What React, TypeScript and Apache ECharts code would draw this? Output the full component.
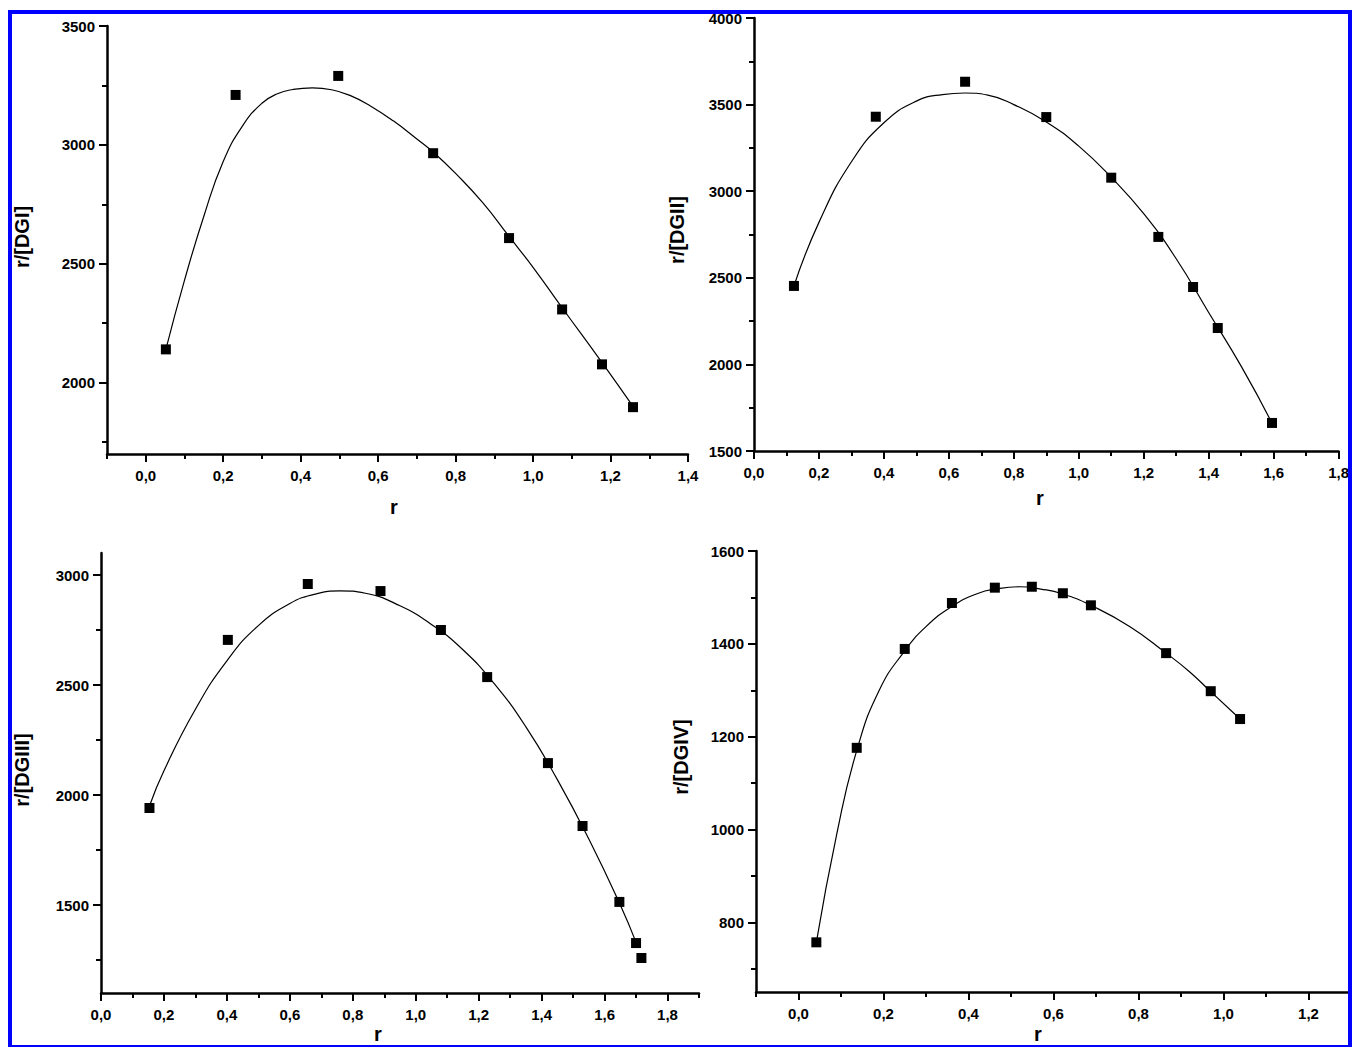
import React, { useEffect, useRef } from "react";
import * as echarts from "echarts";

// ---------- Data ----------
// Panel 1: r/[DGI]
const dg1R = [0.052, 0.232, 0.497, 0.742, 0.938, 1.075, 1.178, 1.258];
const dg1V = [2140, 3210, 3290, 2965, 2608, 2308, 2077, 1897];
const dg1FitR = [0.052, 0.1, 0.15, 0.2, 0.25, 0.3, 0.34, 0.38, 0.43, 0.48, 0.53, 0.58, 0.64, 0.7, 0.742, 0.8, 0.87, 0.938, 1.0, 1.075, 1.18, 1.258];
const dg1FitV = [2140, 2430, 2700, 2930, 3080, 3175, 3215, 3233, 3240, 3232, 3206, 3164, 3100, 3025, 2970, 2880, 2757, 2615, 2485, 2315, 2080, 1900];

// Panel 2: r/[DGII]
const dg2R = [0.123, 0.375, 0.65, 0.9, 1.1, 1.245, 1.352, 1.428, 1.595];
const dg2V = [2453, 3430, 3632, 3428, 3078, 2736, 2447, 2210, 1662];
const dg2FitR = [0.123, 0.2, 0.3, 0.4, 0.5, 0.58, 0.65, 0.72, 0.8, 0.9, 1.0, 1.1, 1.2, 1.3, 1.4, 1.5, 1.595];
const dg2FitV = [2453, 2820, 3170, 3395, 3520, 3558, 3567, 3555, 3500, 3400, 3260, 3080, 2870, 2610, 2300, 1990, 1662];

// Panel 3: r/[DGIII]
const dg3R = [0.154, 0.403, 0.657, 0.888, 1.08, 1.227, 1.42, 1.53, 1.647, 1.70, 1.717];
const dg3V = [1941, 2705, 2959, 2927, 2750, 2536, 2145, 1859, 1514, 1327, 1259];
const dg3FitR = [0.154, 0.2, 0.3, 0.4, 0.5, 0.6, 0.68, 0.76, 0.84, 0.95, 1.05, 1.15, 1.25, 1.35, 1.45, 1.55, 1.65, 1.70];
const dg3FitV = [1950, 2110, 2390, 2610, 2770, 2870, 2913, 2928, 2917, 2860, 2775, 2660, 2505, 2310, 2070, 1800, 1500, 1330];

// Panel 4: r/[DGIV]
const dg4R = [0.042, 0.137, 0.25, 0.361, 0.462, 0.549, 0.622, 0.688, 0.865, 0.97, 1.039];
const dg4V = [757, 1176, 1389, 1488, 1521, 1523, 1509, 1483, 1380, 1298, 1238];
const dg4FitR = [0.042, 0.09, 0.137, 0.19, 0.25, 0.3, 0.36, 0.42, 0.47, 0.52, 0.57, 0.62, 0.688, 0.78, 0.865, 0.92, 0.97, 1.039];
const dg4FitV = [757, 990, 1170, 1300, 1385, 1437, 1480, 1508, 1519, 1523, 1518, 1508, 1483, 1437, 1380, 1340, 1297, 1238];

// Tick values
const x1Major = [0, 0.2, 0.4, 0.6, 0.8, 1.0, 1.2, 1.4];
const x1Minor = [-0.1, 0.1, 0.3, 0.5, 0.7, 0.9, 1.1, 1.3];
const y1Major = [2000, 2500, 3000, 3500];
const y1Minor = [1750, 2250, 2750, 3250];

const x2Major = [0, 0.2, 0.4, 0.6, 0.8, 1.0, 1.2, 1.4, 1.6, 1.8];
const x2Minor = [0.1, 0.3, 0.5, 0.7, 0.9, 1.1, 1.3, 1.5, 1.7];
const y2Major = [1500, 2000, 2500, 3000, 3500, 4000];
const y2Minor = [1750, 2250, 2750, 3250, 3750];

const x3Major = [0, 0.2, 0.4, 0.6, 0.8, 1.0, 1.2, 1.4, 1.6, 1.8];
const x3Minor = [0.1, 0.3, 0.5, 0.7, 0.9, 1.1, 1.3, 1.5, 1.7, 1.9];
const y3Major = [1500, 2000, 2500, 3000];
const y3Minor = [1250, 1750, 2250, 2750];

const x4Major = [0, 0.2, 0.4, 0.6, 0.8, 1.0, 1.2];
const x4Minor = [-0.1, 0.1, 0.3, 0.5, 0.7, 0.9, 1.1, 1.3];
const y4Major = [800, 1000, 1200, 1400, 1600];
const y4Minor = [700, 900, 1100, 1300, 1500];

const yNames = ["r/[DGI]", "r/[DGII]", "r/[DGIII]", "r/[DGIV]"];
const xName = "r";

const FONT = "'Liberation Sans', Arial, sans-serif";

const zip = (a: number[], b: number[]) => a.map((v, i) => [v, b[i]]);

export default function App() {
  const ref = useRef<HTMLDivElement>(null);

  useEffect(() => {
    if (!ref.current) return;
    const chart = echarts.init(ref.current, null, { renderer: "svg" });

    const panels = [
      { grid: { left: 107, top: 26, width: 581, height: 428 }, x: [-0.1, 1.4], y: [1700, 3500], xMaj: x1Major, xMin: x1Minor, yMaj: y1Major, yMin: y1Minor, r: dg1R, v: dg1V, fr: dg1FitR, fv: dg1FitV },
      { grid: { left: 754, top: 18, width: 588, height: 433 }, x: [0, 1.8], y: [1500, 4000], xMaj: x2Major, xMin: x2Minor, yMaj: y2Major, yMin: y2Minor, r: dg2R, v: dg2V, fr: dg2FitR, fv: dg2FitV },
      { grid: { left: 101, top: 553, width: 598, height: 440 }, x: [0, 1.9], y: [1100, 3100], xMaj: x3Major, xMin: x3Minor, yMaj: y3Major, yMin: y3Minor, r: dg3R, v: dg3V, fr: dg3FitR, fv: dg3FitV },
      { grid: { left: 756, top: 551, width: 595, height: 441 }, x: [-0.1, 1.3], y: [650, 1600], xMaj: x4Major, xMin: x4Minor, yMaj: y4Major, yMin: y4Minor, r: dg4R, v: dg4V, fr: dg4FitR, fv: dg4FitV },
    ];

    const labelStyle = { fontFamily: FONT, fontWeight: "bold" as const, fontSize: 15, color: "#000" };
    const grids: any[] = [];
    const xAxes: any[] = [];
    const yAxes: any[] = [];
    const series: any[] = [];

    panels.forEach((p, i) => {
      grids.push({ ...p.grid, containLabel: false });
      xAxes.push({
        type: "value", gridIndex: i, min: p.x[0], max: p.x[1], position: "bottom",
        axisLine: { show: true, onZero: false, lineStyle: { color: "#000", width: 2.5 } },
        axisTick: { show: true, inside: false, length: 8, customValues: p.xMaj, lineStyle: { color: "#000", width: 2 } },
        axisLabel: { show: true, customValues: p.xMaj, margin: 14, ...labelStyle, formatter: (v: number) => v.toFixed(1).replace(".", ",") },
        splitLine: { show: false },
      });
      xAxes.push({
        type: "value", gridIndex: i, min: p.x[0], max: p.x[1], position: "bottom",
        axisLine: { show: false, onZero: false },
        axisTick: { show: true, inside: false, length: 5, customValues: p.xMin, lineStyle: { color: "#000", width: 2 } },
        axisLabel: { show: false },
        splitLine: { show: false },
      });
      yAxes.push({
        type: "value", gridIndex: i, min: p.y[0], max: p.y[1], position: "left",
        axisLine: { show: true, onZero: false, lineStyle: { color: "#000", width: 2.5 } },
        axisTick: { show: true, inside: false, length: 8, customValues: p.yMaj, lineStyle: { color: "#000", width: 2 } },
        axisLabel: { show: true, customValues: p.yMaj, margin: 12, ...labelStyle, formatter: (v: number) => String(v) },
        splitLine: { show: false },
      });
      yAxes.push({
        type: "value", gridIndex: i, min: p.y[0], max: p.y[1], position: "left",
        axisLine: { show: false, onZero: false },
        axisTick: { show: true, inside: false, length: 5, customValues: p.yMin, lineStyle: { color: "#000", width: 2 } },
        axisLabel: { show: false },
        splitLine: { show: false },
      });
      series.push({
        type: "line", name: yNames[i] + " fit", xAxisIndex: 2 * i, yAxisIndex: 2 * i,
        data: zip(p.fr, p.fv), smooth: 0.5, showSymbol: false, symbol: "none",
        lineStyle: { color: "#000", width: 1.2 }, z: 2,
      });
      series.push({
        type: "scatter", name: yNames[i], xAxisIndex: 2 * i, yAxisIndex: 2 * i,
        data: zip(p.r, p.v), symbol: "rect", symbolSize: 10,
        itemStyle: { color: "#000", opacity: 1 }, z: 3,
      });
    });

    const nameStyle = { fontFamily: FONT, fontWeight: "bold", fontSize: 20, fill: "#000" };
    const yNamePos = [[22, 237], [677, 230], [22, 770], [681, 757]];
    const xNamePos = [[394, 507], [1040, 498], [378, 1034], [1038, 1034]];

    const graphics: any[] = [];
    yNames.forEach((n, i) => {
      graphics.push({
        type: "text", x: yNamePos[i][0], y: yNamePos[i][1], rotation: Math.PI / 2, z: 10,
        style: { text: n, ...nameStyle, align: "center", verticalAlign: "middle" },
      });
      graphics.push({
        type: "text", x: xNamePos[i][0], y: xNamePos[i][1], z: 10,
        style: { text: xName, ...nameStyle, align: "center", verticalAlign: "middle" },
      });
    });
    // blue frame
    const blue = "#0000ff";
    graphics.push({ type: "rect", z: 100, shape: { x: 8, y: 10, width: 1344, height: 4 }, style: { fill: blue } });
    graphics.push({ type: "rect", z: 100, shape: { x: 8, y: 10, width: 4, height: 1037 }, style: { fill: blue } });
    graphics.push({ type: "rect", z: 100, shape: { x: 1348, y: 10, width: 4, height: 1037 }, style: { fill: blue } });
    graphics.push({ type: "rect", z: 100, shape: { x: 8, y: 1045, width: 1344, height: 2 }, style: { fill: blue } });

    chart.setOption({
      animation: false,
      backgroundColor: "#fff",
      grid: grids,
      xAxis: xAxes,
      yAxis: yAxes,
      series,
      graphic: graphics,
    });

    return () => chart.dispose();
  }, []);

  return (
    <div
      ref={ref}
      style={{ position: "absolute", left: 0, top: 0, width: 1352, height: 1047 }}
    />
  );
}
